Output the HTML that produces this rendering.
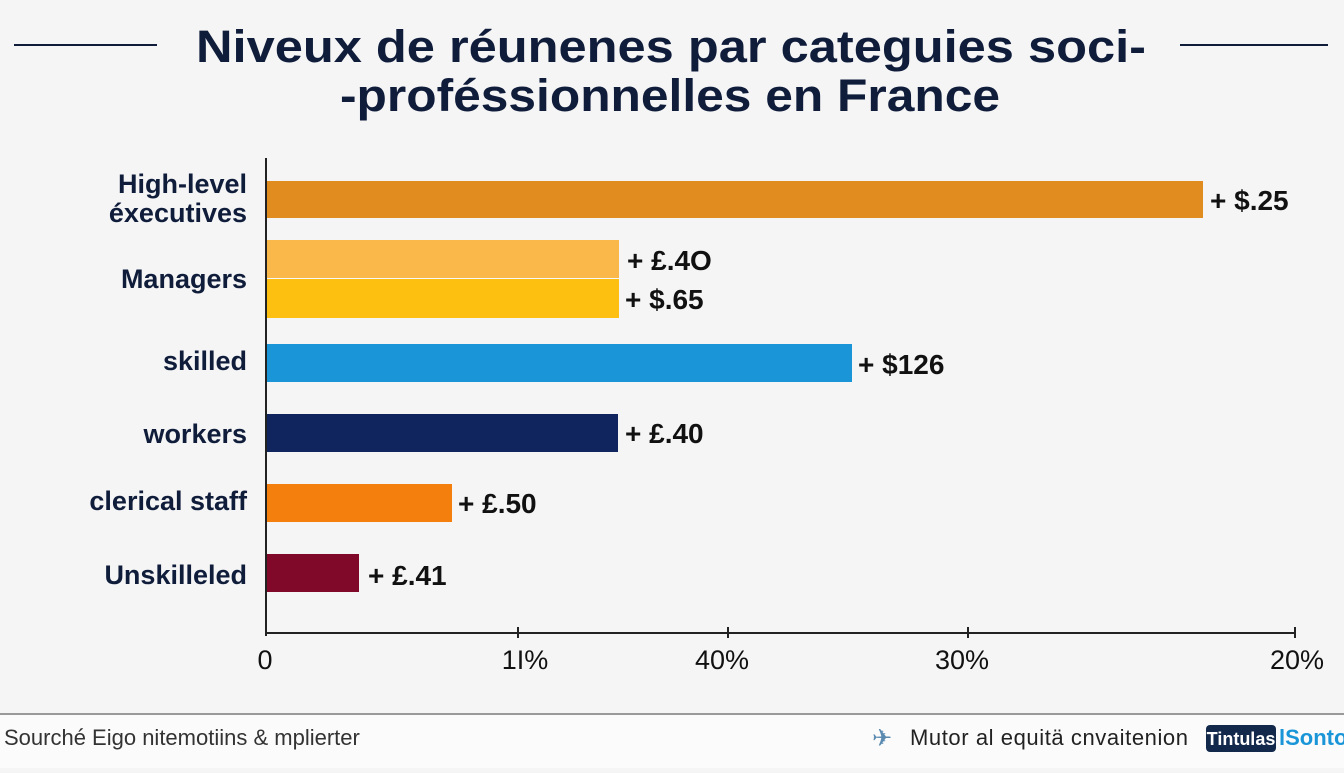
<!DOCTYPE html>
<html><head><meta charset="utf-8"><style>
body{margin:0;width:1344px;height:768px;background:#f5f5f6;font-family:"Liberation Sans",sans-serif;overflow:hidden}
</style></head><body>
<svg width="1344" height="768" xmlns="http://www.w3.org/2000/svg">
<rect width="1344" height="768" fill="#f5f5f6"/>
<rect y="715" width="1344" height="53" fill="#fbfbfb"/>
<line x1="0" y1="714" x2="1344" y2="714" stroke="#9a9a9a" stroke-width="2"/>
<g fill="#0f1c3a" font-weight="bold" font-size="45">
<text x="196" y="62" textLength="950" lengthAdjust="spacingAndGlyphs">Niveux de réunenes par categuies soci-</text>
<text x="340" y="111" textLength="660" lengthAdjust="spacingAndGlyphs">-proféssionnelles en France</text>
</g>
<line x1="14" y1="45" x2="157" y2="45" stroke="#0f1c3a" stroke-width="2"/>
<line x1="1180" y1="45" x2="1328" y2="45" stroke="#0f1c3a" stroke-width="2"/>
<rect x="266" y="181" width="937" height="37" fill="#e08c1e"/>
<rect x="266" y="240" width="353" height="38" fill="#fbb84a"/>
<rect x="266" y="279" width="353" height="39" fill="#fdc010"/>
<rect x="266" y="344" width="586" height="38" fill="#1a96d8"/>
<rect x="266" y="414" width="352" height="38" fill="#10245e"/>
<rect x="266" y="484" width="186" height="38" fill="#f57f0c"/>
<rect x="266" y="554" width="93" height="38" fill="#80092a"/>
<line x1="266" y1="158" x2="266" y2="636" stroke="#222" stroke-width="2"/>
<line x1="266" y1="633" x2="1296" y2="633" stroke="#222" stroke-width="2"/>
<g stroke="#222" stroke-width="2"><line x1="518" y1="627" x2="518" y2="638"/><line x1="728" y1="627" x2="728" y2="638"/><line x1="968" y1="627" x2="968" y2="638"/><line x1="1295" y1="627" x2="1295" y2="638"/></g>
<g fill="#0f1c3a" font-weight="bold" font-size="27" text-anchor="end">
<text x="247" y="193">High-level</text>
<text x="247" y="222">éxecutives</text>
<text x="247" y="288">Managers</text>
<text x="247" y="370">skilled</text>
<text x="247" y="443">workers</text>
<text x="247" y="510">clerical staff</text>
<text x="247" y="584">Unskilleled</text>
</g>
<g fill="#111" font-size="28" font-weight="bold">
<text x="1210" y="210">+ $.25</text>
<text x="627" y="270">+ £.4O</text>
<text x="625" y="309">+ $.65</text>
<text x="858" y="374">+ $126</text>
<text x="625" y="443">+ £.40</text>
<text x="458" y="513">+ £.50</text>
<text x="368" y="585">+ £.41</text>
</g>
<g fill="#111" font-size="27" text-anchor="middle">
<text x="265" y="669">0</text>
<text x="525" y="669">1I%</text>
<text x="722" y="669">40%</text>
<text x="962" y="669">30%</text>
<text x="1297" y="669">20%</text>
</g>
<text x="4" y="745" font-size="22" fill="#333">Sourché Eigo nitemotiins &amp; mplierter</text>
<text x="872" y="746" font-size="24" fill="#5a8ab0">✈</text>
<text x="910" y="745" font-size="22" fill="#222" textLength="278">Mutor al equitä cnvaitenion</text>
<rect x="1206" y="725" width="70" height="27" rx="4" fill="#13294b"/>
<text x="1241" y="745" font-size="18" font-weight="bold" fill="#fff" text-anchor="middle">Tintulas</text>
<text x="1279" y="745" font-size="22" font-weight="bold" fill="#1a96d8">lSonto</text>
</svg>
</body></html>
